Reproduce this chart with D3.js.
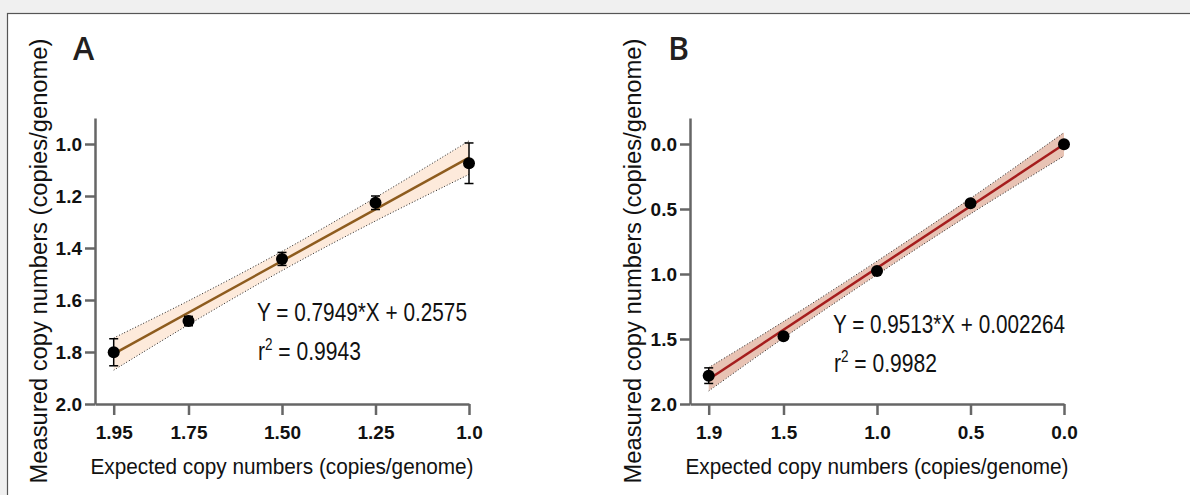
<!DOCTYPE html>
<html lang="en">
<head>
  <meta charset="UTF-8">
  <title>copy number regression</title>
  <style>
    * { padding: 0; margin: 0; }
    html, body { width: 1190px; height: 495px; overflow: hidden; background: #f0f0f0; }
    svg text { font-family: Arial, "Liberation Sans", sans-serif; }
  </style>
</head>
<body>
  <script src="https://cdn.jsdelivr.net/npm/d3@7"></script>
  <script>
    // panel A data (expected vs measured, both axes reversed)
    const expectedA = [1.95, 1.75, 1.50, 1.25, 1.0]
    const measuredA = [1.801, 1.681, 1.442, 1.226, 1.074]
    const errA = [0.052, 0.018, 0.025, 0.026, 0.078]
    const bandUpperA = [1.746, 1.603, 1.413, 1.206, 0.988]
    const bandLowerA = [1.870, 1.695, 1.487, 1.296, 1.117]
    const xTicksA = [1.95, 1.75, 1.50, 1.25, 1.0]
    const xLabelsA = ['1.95', '1.75', '1.50', '1.25', '1.0']
    const yTicksA = [1.0, 1.2, 1.4, 1.6, 1.8, 2.0]

    // panel B data
    const expectedB = [1.9, 1.5, 1.0, 0.5, 0.0]
    const measuredB = [1.782, 1.479, 0.977, 0.456, 0.002]
    const errB = [0.06, 0.015, 0.012, 0.012, 0.01]
    const bandUpperB = [1.720, 1.366, 0.901, 0.418, -0.088]
    const bandLowerB = [1.900, 1.492, 1.006, 0.538, 0.092]
    const xTicksB = [1.9, 1.5, 1.0, 0.5, 0.0]
    const xLabelsB = ['1.9', '1.5', '1.0', '0.5', '0.0']
    const yTicksB = [0.0, 0.5, 1.0, 1.5, 2.0]

    const svg = d3.select('body').append('svg').attr('width', 1190).attr('height', 495)

    // white frame
    svg.append('rect').attr('x', 7.5).attr('y', 13.5).attr('width', 1200).attr('height', 500)
      .attr('fill', '#fff').attr('stroke', '#555').attr('stroke-width', 1.2)

    function panel (o) {
      const g = svg.append('g')
      const x = d3.scaleLinear().domain(o.xDomain).range([o.left, o.right])
      const y = d3.scaleLinear().domain(o.yDomain).range([118, 404])

      // confidence band
      const area = d3.area().curve(d3.curveCatmullRom)
        .x((d, i) => x(o.xs[i])).y0((d, i) => y(o.upper[i])).y1((d, i) => y(o.lower[i]))
      g.append('path').datum(o.xs).attr('d', area).attr('fill', o.bandColor)
      const edge = arr => d3.line().curve(d3.curveCatmullRom).x((d, i) => x(o.xs[i])).y((d, i) => y(arr[i]))(o.xs)
      ;[o.upper, o.lower].forEach(arr => {
        g.append('path').attr('d', edge(arr)).attr('fill', 'none').attr('stroke', '#222')
          .attr('stroke-width', 1).attr('stroke-dasharray', '1,2')
      })

      // fit line from the printed equation
      const x0 = o.xs[0], x1 = o.xs[o.xs.length - 1]
      g.append('line').attr('x1', x(x0)).attr('y1', y(o.slope * x0 + o.icpt))
        .attr('x2', x(x1)).attr('y2', y(o.slope * x1 + o.icpt))
        .attr('stroke', o.lineColor).attr('stroke-width', 2.5)

      // axes
      const yAxis = d3.axisLeft(y).tickValues(o.yTicks).tickFormat(d3.format('.1f'))
        .tickSize(10).tickSizeOuter(0).tickPadding(3)
      const xAxis = d3.axisBottom(x).tickValues(o.xTicks).tickFormat((d, i) => o.xLabels[i])
        .tickSize(11).tickSizeOuter(0).tickPadding(11)
      const ya = g.append('g').attr('transform', `translate(${o.left},0)`).call(yAxis)
      const xa = g.append('g').attr('transform', 'translate(0,404)').call(xAxis)
      ;[ya, xa].forEach(a => {
        a.select('.domain').attr('stroke', '#666').attr('stroke-width', 2.5)
        a.selectAll('.tick line').attr('stroke', '#666').attr('stroke-width', 2.5)
        a.selectAll('.tick text').attr('fill', '#111').style('font-size', '19px').style('font-weight', 'bold')
          .style('font-family', 'Arial, "Liberation Sans", sans-serif')
      })

      // error bars + points
      const pts = g.append('g')
      o.xs.forEach((v, i) => {
        const cx = x(v), top = y(o.meas[i] - o.err[i]), bot = y(o.meas[i] + o.err[i])
        pts.append('line').attr('x1', cx).attr('x2', cx).attr('y1', top).attr('y2', bot).attr('stroke', '#000').attr('stroke-width', 1.5)
        ;[top, bot].forEach(yy => pts.append('line').attr('x1', cx - 4.5).attr('x2', cx + 4.5)
          .attr('y1', yy).attr('y2', yy).attr('stroke', '#000').attr('stroke-width', 1.5))
        pts.append('circle').attr('cx', cx).attr('cy', y(o.meas[i])).attr('r', 6).attr('fill', '#000')
      })

      // titles
      g.append('text').attr('x', (o.left + o.right) / 2).attr('y', 474).attr('text-anchor', 'middle')
        .attr('textLength', 383).attr('lengthAdjust', 'spacingAndGlyphs')
        .style('font-size', '22.5px').attr('fill', '#111').text('Expected copy numbers (copies/genome)')
      g.append('text').attr('transform', `translate(${o.yTitleX},261) rotate(-90)`).attr('text-anchor', 'middle')
        .attr('textLength', 445).attr('lengthAdjust', 'spacingAndGlyphs')
        .style('font-size', '23px').attr('fill', '#111').text('Measured copy numbers (copies/genome)')
      g.append('text').attr('x', o.letterX).attr('y', 60).style('font-size', '32px')
        .style('font-family', '"Open Sans", "Noto Sans", sans-serif').style('font-weight', 600)
        .attr('fill', '#231f20').text(o.letter)

      // equation
      g.append('text').attr('x', o.eqX).attr('y', o.eqY).attr('textLength', o.eqW).attr('lengthAdjust', 'spacingAndGlyphs')
        .style('font-size', '25px').attr('fill', '#111').text(o.eq)
      const r = g.append('text').attr('x', o.eqX + 1).attr('y', o.eqY + 39)
        .attr('textLength', 103).attr('lengthAdjust', 'spacingAndGlyphs')
        .style('font-size', '25px').attr('fill', '#111')
      r.append('tspan').text('r')
      r.append('tspan').attr('dy', -10).style('font-size', '16px').text('2')
      r.append('tspan').attr('dy', 10).text(' = ' + o.r2)
    }

    panel({
      left: 95, right: 469, xDomain: [2.0, 1.0], yDomain: [0.9, 2.0],
      xs: expectedA, meas: measuredA, err: errA, upper: bandUpperA, lower: bandLowerA,
      xTicks: xTicksA, xLabels: xLabelsA, yTicks: yTicksA,
      slope: 0.7949, icpt: 0.2575, lineColor: '#8e5c1e', bandColor: '#fdeadb',
      yTitleX: 47, letter: 'A', letterX: 73,
      eq: 'Y = 0.7949*X + 0.2575', r2: '0.9943', eqX: 257, eqY: 321, eqW: 210
    })
    panel({
      left: 690, right: 1064, xDomain: [2.0, 0.0], yDomain: [-0.2, 2.0],
      xs: expectedB, meas: measuredB, err: errB, upper: bandUpperB, lower: bandLowerB,
      xTicks: xTicksB, xLabels: xLabelsB, yTicks: yTicksB,
      slope: 0.9513, icpt: 0.002264, lineColor: '#a51d1d', bandColor: '#e8c3b4',
      yTitleX: 641, letter: 'B', letterX: 668,
      eq: 'Y = 0.9513*X + 0.002264', r2: '0.9982', eqX: 833, eqY: 333, eqW: 232
    })
  </script>
</body>
</html>
